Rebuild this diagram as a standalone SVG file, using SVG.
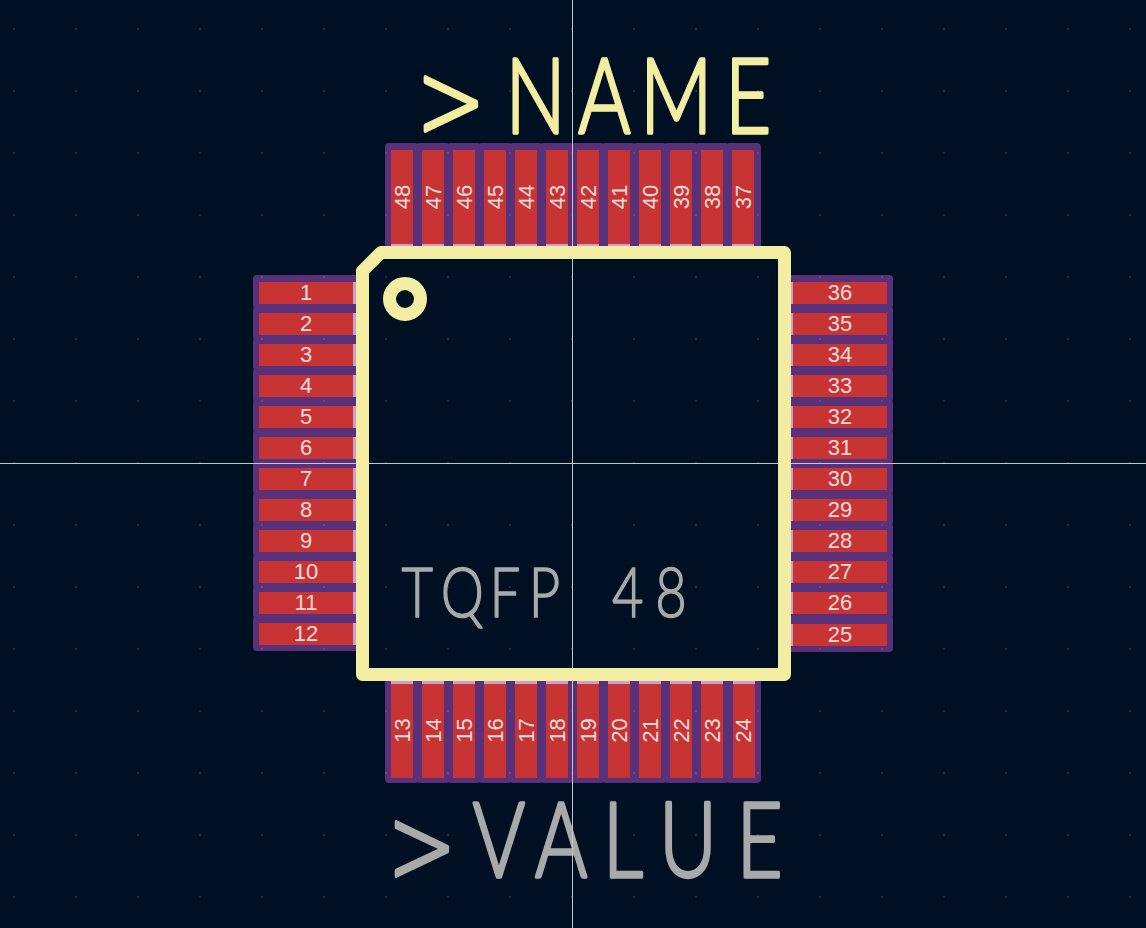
<svg xmlns="http://www.w3.org/2000/svg" width="1146" height="928" viewBox="0 0 1146 928">
<defs>
<pattern id="grid" x="13.5" y="28.5" width="62" height="62" patternUnits="userSpaceOnUse"><rect width="1" height="1" fill="#8a98a6"/></pattern>
</defs>
<style>
.num{font-family:"Liberation Sans",Arial,sans-serif;font-size:22px;fill:#f5dcdc;text-anchor:middle}
.silk{fill:none;stroke:#f2eda1;stroke-width:13;stroke-linejoin:round}
.big{font-family:"Lato",sans-serif;font-weight:300;font-size:105px;stroke-width:3.5;stroke-linejoin:round}
.mid{font-family:"Lato",sans-serif;font-weight:300;font-size:68px;fill:#a9a9a9;stroke:#a9a9a9;stroke-width:1.5;stroke-linejoin:round}
.gt{font-family:"DejaVu Sans",sans-serif;font-weight:200;font-size:108px;stroke-width:4}
</style>
<rect width="1146" height="928" fill="#001023"/>
<g id="pads-purple" fill="#59307a">
<g id="pv-top"><rect x="385" y="143" width="34" height="106" rx="4"/><rect x="416" y="143" width="34" height="106" rx="4"/><rect x="447" y="143" width="34" height="106" rx="4"/><rect x="478" y="143" width="34" height="106" rx="4"/><rect x="509" y="143" width="34" height="106" rx="4"/><rect x="540" y="143" width="34" height="106" rx="4"/><rect x="571" y="143" width="34" height="106" rx="4"/><rect x="602" y="143" width="34" height="106" rx="4"/><rect x="633" y="143" width="34" height="106" rx="4"/><rect x="664" y="143" width="34" height="106" rx="4"/><rect x="695" y="143" width="34" height="106" rx="4"/><rect x="726" y="143" width="35" height="106" rx="4"/></g>
<g id="pv-bottom"><rect x="385" y="678" width="34" height="105" rx="4"/><rect x="416" y="678" width="34" height="105" rx="4"/><rect x="447" y="678" width="34" height="105" rx="4"/><rect x="478" y="678" width="34" height="105" rx="4"/><rect x="509" y="678" width="34" height="105" rx="4"/><rect x="540" y="678" width="34" height="105" rx="4"/><rect x="571" y="678" width="34" height="105" rx="4"/><rect x="602" y="678" width="34" height="105" rx="4"/><rect x="633" y="678" width="34" height="105" rx="4"/><rect x="664" y="678" width="34" height="105" rx="4"/><rect x="695" y="678" width="34" height="105" rx="4"/><rect x="726" y="678" width="35" height="105" rx="4"/></g>
<g id="pv-left"><rect x="253" y="275" width="106" height="34" rx="4"/><rect x="253" y="306" width="106" height="34" rx="4"/><rect x="253" y="337" width="106" height="34" rx="4"/><rect x="253" y="368" width="106" height="34" rx="4"/><rect x="253" y="399" width="106" height="34" rx="4"/><rect x="253" y="430" width="106" height="34" rx="4"/><rect x="253" y="461" width="106" height="34" rx="4"/><rect x="253" y="492" width="106" height="34" rx="4"/><rect x="253" y="523" width="106" height="34" rx="4"/><rect x="253" y="554" width="106" height="34" rx="4"/><rect x="253" y="585" width="106" height="34" rx="4"/><rect x="253" y="616" width="106" height="35" rx="4"/></g>
<g id="pv-right"><rect x="788" y="275" width="105" height="34" rx="4"/><rect x="788" y="306" width="105" height="34" rx="4"/><rect x="788" y="337" width="105" height="34" rx="4"/><rect x="788" y="368" width="105" height="34" rx="4"/><rect x="788" y="399" width="105" height="34" rx="4"/><rect x="788" y="430" width="105" height="34" rx="4"/><rect x="788" y="461" width="105" height="34" rx="4"/><rect x="788" y="492" width="105" height="34" rx="4"/><rect x="788" y="523" width="105" height="34" rx="4"/><rect x="788" y="554" width="105" height="34" rx="4"/><rect x="788" y="585" width="105" height="34" rx="4"/><rect x="788" y="616" width="105" height="36" rx="4"/></g>
</g>
<rect id="grid-dots" width="1146" height="928" fill="url(#grid)"/>
<g id="pads-top" fill="#c83434"><rect x="391" y="150" width="22" height="94"/><rect x="422" y="150" width="22" height="94"/><rect x="453" y="150" width="22" height="94"/><rect x="484" y="150" width="22" height="94"/><rect x="515" y="150" width="22" height="94"/><rect x="546" y="150" width="22" height="94"/><rect x="577" y="150" width="22" height="94"/><rect x="608" y="150" width="22" height="94"/><rect x="639" y="150" width="22" height="94"/><rect x="670" y="150" width="22" height="94"/><rect x="701" y="150" width="22" height="94"/><rect x="732" y="150" width="22" height="94"/></g>
<g id="pads-bottom" fill="#c83434"><rect x="391" y="684" width="22" height="94"/><rect x="422" y="684" width="22" height="94"/><rect x="453" y="684" width="22" height="94"/><rect x="484" y="684" width="22" height="94"/><rect x="515" y="684" width="22" height="94"/><rect x="546" y="684" width="22" height="94"/><rect x="577" y="684" width="22" height="94"/><rect x="608" y="684" width="22" height="94"/><rect x="639" y="684" width="22" height="94"/><rect x="670" y="684" width="22" height="94"/><rect x="701" y="684" width="22" height="94"/><rect x="733" y="684" width="22" height="94"/></g>
<g id="pads-left" fill="#c83434"><rect x="259" y="282" width="94" height="22"/><rect x="259" y="313" width="94" height="22"/><rect x="259" y="344" width="94" height="22"/><rect x="259" y="375" width="94" height="22"/><rect x="259" y="406" width="94" height="22"/><rect x="259" y="437" width="94" height="22"/><rect x="259" y="468" width="94" height="22"/><rect x="259" y="499" width="94" height="22"/><rect x="259" y="530" width="94" height="22"/><rect x="259" y="561" width="94" height="22"/><rect x="259" y="592" width="94" height="22"/><rect x="259" y="623" width="94" height="22"/></g>
<g id="pads-right" fill="#c83434"><rect x="793" y="282" width="94" height="22"/><rect x="793" y="313" width="94" height="22"/><rect x="793" y="344" width="94" height="22"/><rect x="793" y="375" width="94" height="22"/><rect x="793" y="406" width="94" height="22"/><rect x="793" y="437" width="94" height="22"/><rect x="793" y="468" width="94" height="22"/><rect x="793" y="499" width="94" height="22"/><rect x="793" y="530" width="94" height="22"/><rect x="793" y="561" width="94" height="22"/><rect x="793" y="592" width="94" height="22"/><rect x="793" y="624" width="94" height="22"/></g>
<g id="strips" fill="#c8a0d0"><rect x="391" y="244" width="22" height="2"/><rect x="422" y="244" width="22" height="2"/><rect x="453" y="244" width="22" height="2"/><rect x="484" y="244" width="22" height="2"/><rect x="515" y="244" width="22" height="2"/><rect x="546" y="244" width="22" height="2"/><rect x="577" y="244" width="22" height="2"/><rect x="608" y="244" width="22" height="2"/><rect x="639" y="244" width="22" height="2"/><rect x="670" y="244" width="22" height="2"/><rect x="701" y="244" width="22" height="2"/><rect x="732" y="244" width="22" height="2"/><rect x="391" y="681" width="22" height="3"/><rect x="422" y="681" width="22" height="3"/><rect x="453" y="681" width="22" height="3"/><rect x="484" y="681" width="22" height="3"/><rect x="515" y="681" width="22" height="3"/><rect x="546" y="681" width="22" height="3"/><rect x="577" y="681" width="22" height="3"/><rect x="608" y="681" width="22" height="3"/><rect x="639" y="681" width="22" height="3"/><rect x="670" y="681" width="22" height="3"/><rect x="701" y="681" width="22" height="3"/><rect x="733" y="681" width="22" height="3"/><rect x="353" y="282" width="3" height="22"/><rect x="353" y="313" width="3" height="22"/><rect x="353" y="344" width="3" height="22"/><rect x="353" y="375" width="3" height="22"/><rect x="353" y="406" width="3" height="22"/><rect x="353" y="437" width="3" height="22"/><rect x="353" y="468" width="3" height="22"/><rect x="353" y="499" width="3" height="22"/><rect x="353" y="530" width="3" height="22"/><rect x="353" y="561" width="3" height="22"/><rect x="353" y="592" width="3" height="22"/><rect x="353" y="623" width="3" height="22"/><rect x="791" y="282" width="2" height="22"/><rect x="791" y="313" width="2" height="22"/><rect x="791" y="344" width="2" height="22"/><rect x="791" y="375" width="2" height="22"/><rect x="791" y="406" width="2" height="22"/><rect x="791" y="437" width="2" height="22"/><rect x="791" y="468" width="2" height="22"/><rect x="791" y="499" width="2" height="22"/><rect x="791" y="530" width="2" height="22"/><rect x="791" y="561" width="2" height="22"/><rect x="791" y="592" width="2" height="22"/><rect x="791" y="624" width="2" height="22"/></g>
<g id="numbers">
<text class="num" x="306" y="300">1</text><text class="num" x="306" y="331">2</text><text class="num" x="306" y="362">3</text><text class="num" x="306" y="393">4</text><text class="num" x="306" y="424">5</text><text class="num" x="306" y="455">6</text><text class="num" x="306" y="486">7</text><text class="num" x="306" y="517">8</text><text class="num" x="306" y="548">9</text><text class="num" x="306" y="579">10</text><text class="num" x="306" y="610">11</text><text class="num" x="306" y="641">12</text>
<text class="num" x="840" y="300">36</text><text class="num" x="840" y="331">35</text><text class="num" x="840" y="362">34</text><text class="num" x="840" y="393">33</text><text class="num" x="840" y="424">32</text><text class="num" x="840" y="455">31</text><text class="num" x="840" y="486">30</text><text class="num" x="840" y="517">29</text><text class="num" x="840" y="548">28</text><text class="num" x="840" y="579">27</text><text class="num" x="840" y="610">26</text><text class="num" x="840" y="642">25</text>
<text class="num" transform="translate(409.5,197) rotate(-90)">48</text><text class="num" transform="translate(440.5,197) rotate(-90)">47</text><text class="num" transform="translate(471.5,197) rotate(-90)">46</text><text class="num" transform="translate(502.5,197) rotate(-90)">45</text><text class="num" transform="translate(533.5,197) rotate(-90)">44</text><text class="num" transform="translate(564.5,197) rotate(-90)">43</text><text class="num" transform="translate(595.5,197) rotate(-90)">42</text><text class="num" transform="translate(626.5,197) rotate(-90)">41</text><text class="num" transform="translate(657.5,197) rotate(-90)">40</text><text class="num" transform="translate(688.5,197) rotate(-90)">39</text><text class="num" transform="translate(719.5,197) rotate(-90)">38</text><text class="num" transform="translate(750.5,197) rotate(-90)">37</text>
<text class="num" transform="translate(409.5,730.5) rotate(-90)">13</text><text class="num" transform="translate(440.5,730.5) rotate(-90)">14</text><text class="num" transform="translate(471.5,730.5) rotate(-90)">15</text><text class="num" transform="translate(502.5,730.5) rotate(-90)">16</text><text class="num" transform="translate(533.5,730.5) rotate(-90)">17</text><text class="num" transform="translate(564.5,730.5) rotate(-90)">18</text><text class="num" transform="translate(595.5,730.5) rotate(-90)">19</text><text class="num" transform="translate(626.5,730.5) rotate(-90)">20</text><text class="num" transform="translate(657.5,730.5) rotate(-90)">21</text><text class="num" transform="translate(688.5,730.5) rotate(-90)">22</text><text class="num" transform="translate(719.5,730.5) rotate(-90)">23</text><text class="num" transform="translate(751,730.5) rotate(-90)">24</text>
</g>
<text id="label-value" class="big" fill="#a9a9a9" stroke="#a9a9a9" transform="translate(0,877) scale(.76,1)"><tspan class="gt" x="510" y="6">&gt;</tspan><tspan x="622 704 793 867 969" y="0">VALUE</tspan></text>
<g id="crosshair" stroke="#c4c6cc" stroke-width="1"><line x1="572.5" y1="0" x2="572.5" y2="928"/><line x1="0" y1="463.5" x2="1146" y2="463.5"/></g>
<g id="silkscreen"><path class="silk" d="M381 252.5H784.5V674.5H362.5V271Z"/><circle class="silk" cx="405" cy="299" r="15.5"/></g>
<g id="labels">
<text id="label-name" class="big" fill="#f2eda1" stroke="#f2eda1" transform="translate(0,133) scale(.76,1)"><tspan class="gt" x="548" y="4.5">&gt;</tspan><tspan x="665 761 842 954" y="0">NAME</tspan></text>
<text id="label-tqfp" class="mid" transform="translate(0,617) scale(.8,1)" x="502 551 612 661 720 765 819">TQFP 48</text>
</g>
</svg>
